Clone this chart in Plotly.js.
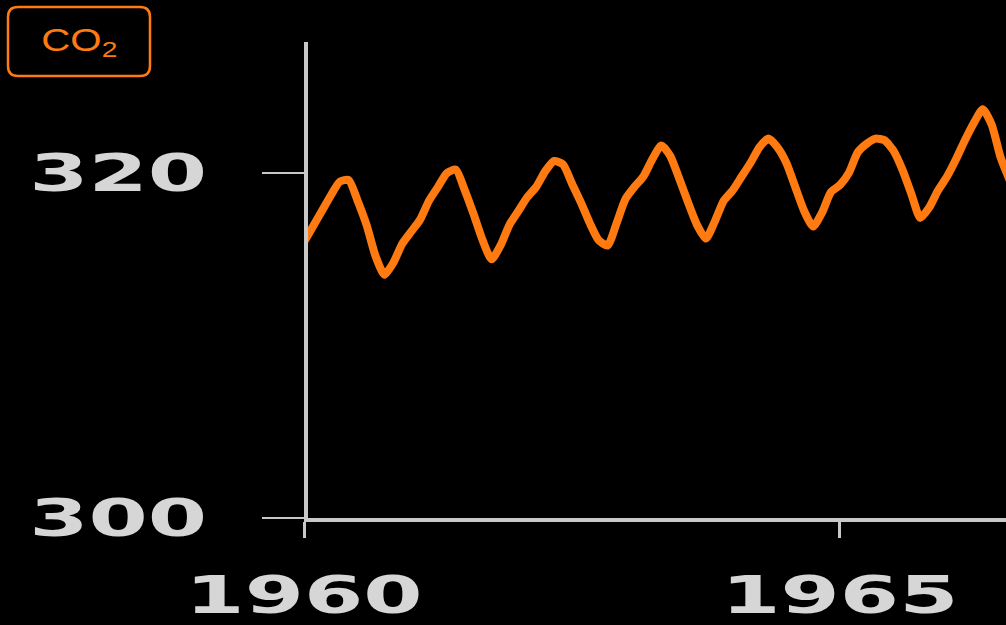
<!DOCTYPE html>
<html>
<head>
<meta charset="utf-8">
<script src="https://cdn.plot.ly/plotly-3.0.1.min.js"></script>
<style>
  html, body { margin:0; padding:0; background:#000; }
  #chart { width:1006px; height:625px; }
</style>
</head>
<body>
<div id="chart"></div>
<script>
// Monthly CO2 concentration (ppm)
const years = [1960, 1961, 1962, 1963, 1964, 1965, 1966];
const co2_1960 = [316.0, 316.9, 317.8, 318.7, 319.5, 319.6, 318.4, 317.0, 315.2, 314.1, 314.8, 315.9];
const co2_1961 = [316.6, 317.3, 318.4, 319.2, 320.0, 320.2, 319.0, 317.6, 316.1, 315.0, 315.8, 317.0];
const co2_1962 = [317.8, 318.6, 319.2, 320.1, 320.7, 320.5, 319.4, 318.3, 317.1, 316.1, 315.8, 317.1];
const co2_1963 = [318.5, 319.2, 319.8, 320.8, 321.6, 321.0, 319.7, 318.3, 317.0, 316.2, 317.2, 318.4];
const co2_1964 = [319.0, 319.8, 320.6, 321.5, 322.0, 321.5, 320.6, 319.2, 317.8, 316.9, 317.7, 318.9];
const co2_1965 = [319.3, 320.0, 321.2, 321.7, 322.0, 321.9, 321.3, 320.2, 318.8, 317.4, 318.0, 319.0];
const co2_1966 = [319.8, 320.8, 321.9, 322.9, 323.7, 322.8, 320.9, 319.6];
const seriesByYear = [co2_1960, co2_1961, co2_1962, co2_1963, co2_1964, co2_1965, co2_1966];

const xTickVals = [1960, 1965];
const xTickText = ['1960', '1965'];
const yTickVals = [300, 320];
const yTickText = ['300', '320'];
const legendLabel = 'CO<sub>2</sub>';

// build the time series (decimal year for each month)
const xs = [], ys = [];
years.forEach((yr, i) => {
  seriesByYear[i].forEach((v, m) => { xs.push(yr + m / 12); ys.push(v); });
});

const ORANGE = '#ff7b12';
const AXIS = '#c8c8c8';
const LABEL = '#d6d6d6';

const data = [{
  x: xs, y: ys, type: 'scatter', mode: 'lines',
  line: { color: ORANGE, width: 8, shape: 'spline', smoothing: 0.6 },
  hoverinfo: 'skip'
}];

const tickFont = { family: 'DejaVu Sans', size: 52, color: LABEL, weight: 'bold' };

// plot area: left edge at 304px of a 1006px-wide page, margin 290 → width 716
const ML = 290, PW = 1006 - ML;
const domainStart = (304 - ML) / PW;
const yPos = (305.5 - ML) / PW;

const layout = {
  width: 1006, height: 625,
  paper_bgcolor: '#000', plot_bgcolor: '#000',
  margin: { l: ML, r: 0, t: 42, b: 107 },
  showlegend: false,
  xaxis: {
    domain: [domainStart, 1],
    range: [1960, 1966.55],
    tickmode: 'array', tickvals: xTickVals, ticktext: xTickText,
    showline: true, linecolor: AXIS, linewidth: 4,
    ticks: 'outside', ticklen: 16, tickwidth: 3, tickcolor: AXIS,
    showgrid: false, zeroline: false,
    tickfont: tickFont, ticklabelstandoff: 13
  },
  yaxis: {
    anchor: 'free', position: yPos, side: 'left',
    range: [300, 327.6],
    tickmode: 'array', tickvals: yTickVals, ticktext: yTickText,
    showline: true, linecolor: AXIS, linewidth: 4,
    ticks: 'outside', ticklen: 42, tickwidth: 2, tickcolor: AXIS,
    showgrid: false, zeroline: false,
    tickfont: tickFont, ticklabelstandoff: 44
  },
  shapes: [{
    type: 'path', xref: 'paper', yref: 'paper',
    path: (function () {
      const px = p => (p - ML) / PW;
      const py = p => (518 - p) / 476;
      const x0 = px(8), x1 = px(150), y0 = py(76), y1 = py(7);
      const rx = 10 / PW, ry = 10 / 476;
      return `M ${x0 + rx},${y1} L ${x1 - rx},${y1} Q ${x1},${y1} ${x1},${y1 - ry} ` +
             `L ${x1},${y0 + ry} Q ${x1},${y0} ${x1 - rx},${y0} L ${x0 + rx},${y0} ` +
             `Q ${x0},${y0} ${x0},${y0 + ry} L ${x0},${y1 - ry} Q ${x0},${y1} ${x0 + rx},${y1} Z`;
    })(),
    line: { color: ORANGE, width: 2.5 }, fillcolor: 'rgba(0,0,0,0)'
  }],
  annotations: [{
    xref: 'paper', yref: 'paper', x: (79 - ML) / PW, y: (518 - 43) / 476,
    xanchor: 'center', yanchor: 'middle', showarrow: false,
    text: legendLabel,
    font: { family: 'Liberation Sans', size: 31, color: ORANGE }
  }]
};

function stretch(t, sx, anchor) {
  const bb = t.getBBox();
  const ax = anchor === 'right' ? bb.x + bb.width : bb.x + bb.width / 2;
  const tr = t.getAttribute('transform') || '';
  t.setAttribute('transform', `${tr} translate(${ax},0) scale(${sx},1) translate(${-ax},0)`);
}

Plotly.newPlot('chart', data, layout, { staticPlot: true }).then(gd => {
  const SX = 1.64;
  gd.querySelectorAll('.xtick text').forEach(t => stretch(t, SX, 'center'));
  gd.querySelectorAll('.ytick text').forEach(t => stretch(t, SX, 'right'));
  gd.querySelectorAll('.annotation-text').forEach(t => stretch(t, 1.3, 'center'));
});
</script>
</body>
</html>
